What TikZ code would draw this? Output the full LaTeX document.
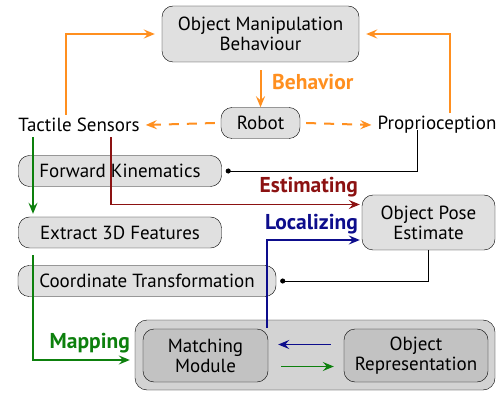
\documentclass[tikz,border=0pt]{standalone}
\usepackage{fontspec}
\setmainfont{PT Sans}
\usetikzlibrary{calc}
\definecolor{camorange}{rgb}{1, 0.56, 0.12}
\definecolor{camred}{rgb}{0.55, 0.07, 0.07}
\definecolor{camblue}{rgb}{0.05, 0.05, 0.55}
\definecolor{camgreen}{rgb}{0.05, 0.5, 0.05}
\definecolor{boxgray}{gray}{0.88}
\definecolor{innergray}{gray}{0.76}
\usetikzlibrary{shapes.geometric,arrows.meta,positioning,scopes}
\tikzset{>={Stealth[length=11pt,width=9pt,inset=4pt]}}

\begin{document}
\begin{tikzpicture}[x=1pt,y=-1pt,font=\fontsize{19}{20}\selectfont]
  \useasboundingbox (0,0) rectangle (503,395);
  \tikzstyle{block_node}=[draw,rounded corners=11pt,fill=boxgray,minimum height=31pt,inner sep=0pt,align=center]
  \tikzstyle{flow_label}=[font=\fontsize{21.5}{22}\selectfont\bfseries,inner sep=0pt]
  \tikzstyle{orange_line}=[->,camorange,line width=2pt]
  \tikzstyle{link_line}=[-{Circle[length=5pt]},black,line width=0.9pt]
  % top row
  \node[block_node, minimum width=197pt, minimum height=56pt] (omb) at (260.5,34) {Object Manipulation\\Behaviour};
  \node[block_node, minimum width=79pt] (robot) at (260.5,123) {Robot};
  \node[inner sep=0pt] (tactile) at (79,125) {Tactile Sensors};
  \node[inner sep=0pt] (proprio) at (437,125) {Proprioception};
  \path[orange_line] (omb.south) ++(0,8) edge (robot.north);
  \node[flow_label, camorange, anchor=west] (behavior) at (272,82) {Behavior};
  \path[orange_line, dash pattern=on 10pt off 8pt] (robot.west) ++(-6,0) edge ($(tactile.east)+(6,0)$);
  \path[orange_line, dash pattern=on 10pt off 8pt] (robot.east) ++(6,0) edge ($(proprio.west)+(-6,0)$);
  \draw[orange_line] ($(tactile.north)+(-13,-3)$) |- ($(omb.west)+(-7,0)$);
  \draw[orange_line] ($(proprio.north)+(13,-3)$) |- ($(omb.east)+(7,0)$);
  % processing chain
  \node[block_node, minimum width=203pt] (fk) at (120,171) {Forward Kinematics};
  \node[block_node, minimum width=203pt] (extract) at (120,232.5) {Extract 3D Features};
  \node[block_node, minimum width=258pt] (coord) at (147,281) {Coordinate Transformation};
  \node[block_node, minimum width=133pt, minimum height=55pt] (pose) at (428.5,222.5) {Object Pose\\Estimate};
  \draw[link_line] ($(proprio.south)+(-20,-4)$) |- ($(fk.east)+(4,0)$);
  \draw[link_line] (pose.south) |- ($(coord.east)+(4,0)$);
  % matching block
  \node[block_node, fill=boxgray!94!black, rounded corners=12pt, minimum width=360pt, minimum height=70pt] (outer) at (315,355) {};
  \node[block_node, fill=innergray, minimum width=125pt, minimum height=53pt] (match) at (205.5,355.5) {Matching\\Module};
  \node[block_node, fill=innergray, minimum width=144pt, minimum height=53pt] (objrep) at (416,355.5) {Object\\Representation};
  \draw[->, camblue, line width=1.5pt] ($(objrep.west)+(-13,-11)$) -- ($(match.east)+(10,-11)$);
  \draw[->, camgreen, line width=1.5pt] ($(match.east)+(13,11)$) -- ($(objrep.west)+(-10,11)$);
  % flows
  \draw[->, camgreen, line width=1.4pt] ($(tactile.south)+(-46,5)$) -- ($(extract.north)+(-87,-3)$);
  \draw[->, camgreen, line width=1.4pt] ($(extract.south)+(-87,7)$) |- ($(outer.west)+(-5,5)$);
  \node[flow_label, camgreen, anchor=east] (mapping) at (130,343) {Mapping};
  \draw[->, camred, line width=1.5pt] ($(tactile.south)+(32,5)$) |- ($(pose.west)+(-2,-18)$);
  \node[flow_label, camred, anchor=east] (estimating) at (358,187) {Estimating};
  \draw[->, camblue, line width=1.5pt] ($(match.north east)+(-1,-1)$) |- ($(pose.west)+(-2,17.5)$);
  \node[flow_label, camblue, anchor=east] (localizing) at (358,224) {Localizing};
\end{tikzpicture}
\end{document}
